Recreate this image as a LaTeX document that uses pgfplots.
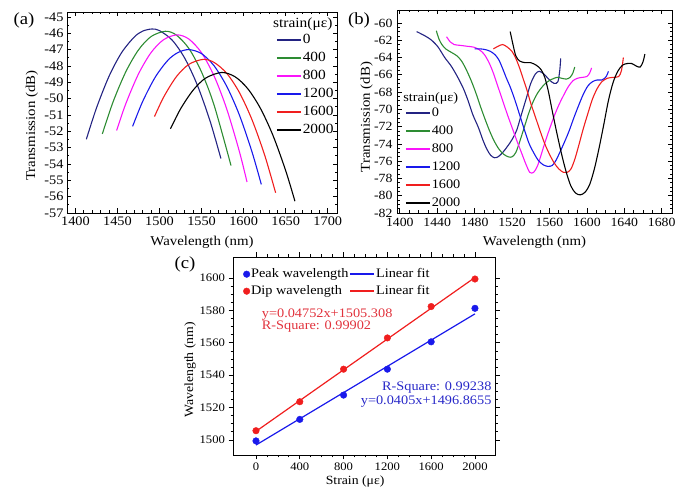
\documentclass[border=0pt]{standalone}
\usepackage{fontspec}
\setmainfont{Liberation Serif}[FakeStretch=1.1]
\usepackage{pgfplots}
\pgfplotsset{compat=1.18}
\definecolor{cnavy}{RGB}{35,35,130}
\definecolor{cgreen}{RGB}{45,140,50}
\definecolor{cmag}{RGB}{250,20,250}
\definecolor{cblue}{RGB}{25,25,235}
\definecolor{cred}{RGB}{240,30,30}
\definecolor{tred}{RGB}{225,50,60}
\definecolor{tblue}{RGB}{40,40,200}
\newcommand{\fs}[1]{\fontsize{#1}{#1}\selectfont}
\pgfplotsset{
  common/.style={
    scale only axis,
    /pgf/number format/assume math mode=true,
    /pgf/number format/1000 sep={},
    major tick length=4.5pt, minor tick length=2.5pt,
    every tick/.style={black, line width=0.7pt},
    axis line style={line width=0.7pt},
    legend cell align=left,
    legend style={draw=none, fill=none, inner sep=0pt, row sep=0pt,
      nodes={inner sep=1pt, text height=12pt, text depth=4pt}},
    legend image code/.code={\draw[##1, line width=1.6pt] (0pt,0pt) -- (24pt,0pt);},
  },
  dotlegend/.style={legend image code/.code={\fill[##1] (3.5pt,0pt) circle[radius=3.3pt];}},
}
\begin{document}
\begin{tikzpicture}
\useasboundingbox (0,0) rectangle (686pt,492pt);
% ---------------- (a)
\begin{axis}[common,
  at={(67pt,279pt)}, anchor=south west,
  width=270pt, height=201pt,
  xmin=1390, xmax=1711, ymin=-57, ymax=-44.7,
  xtick={1400,1450,...,1700}, ytick={-57,-56,...,-45},
  minor x tick num=4, minor y tick num=1,
  tick label style={font=\fs{13}},
  xlabel={Wavelength (nm)}, ylabel={Transmission (dB)},
  label style={font=\fs{13.5}},
  xlabel style={at={(axis description cs:0.5,-0.145)}, anchor=center},
  ylabel style={at={(axis description cs:-0.13,0.435)}, anchor=center},
  legend style={font=\fs{14}, at={(axis description cs:0.774,0.9075)}, anchor=north west},
  every axis plot/.append style={line width=1.1pt, smooth, no markers},
]
\addplot[cnavy] coordinates {(1413,-52.49)(1425,-50.58)(1440,-48.63)(1455,-47.18)(1470,-46.23)(1480,-45.87)(1491,-45.74)(1500,-45.84)(1515,-46.42)(1530,-47.53)(1545,-49.18)(1560,-51.36)(1573,-53.67)};
\addlegendentry{0}
\addplot[cgreen] coordinates {(1432,-52.16)(1445,-50.17)(1460,-48.35)(1475,-47.02)(1490,-46.20)(1507,-45.88)(1520,-46.11)(1535,-46.94)(1550,-48.38)(1565,-50.42)(1585,-54.10)};
\addlegendentry{400}
\addplot[cmag] coordinates {(1449,-51.95)(1460,-50.30)(1475,-48.49)(1490,-47.18)(1505,-46.39)(1521,-46.10)(1535,-46.36)(1550,-47.20)(1565,-48.63)(1580,-50.65)(1595,-53.25)(1604,-55.10)};
\addlegendentry{800}
\addplot[cblue] coordinates {(1468,-51.70)(1480,-50.17)(1495,-48.68)(1510,-47.65)(1522,-47.18)(1535,-47.00)(1550,-47.25)(1565,-48.00)(1580,-49.26)(1595,-51.01)(1610,-53.27)(1621,-55.25)};
\addlegendentry{1200}
\addplot[cred] coordinates {(1494,-51.10)(1505,-49.90)(1520,-48.66)(1535,-47.90)(1552,-47.60)(1565,-47.79)(1580,-48.46)(1595,-49.63)(1610,-51.30)(1625,-53.46)(1638,-55.76)};
\addlegendentry{1600}
\addplot[black] coordinates {(1513,-51.85)(1525,-50.63)(1540,-49.48)(1555,-48.74)(1574,-48.40)(1590,-48.67)(1605,-49.40)(1620,-50.60)(1635,-52.27)(1650,-54.41)(1661,-56.28)};
\addlegendentry{2000}
\node[anchor=west, font=\fs{14}, inner sep=0pt] at (axis description cs:0.763,0.94) {strain(με)};
\end{axis}
% ---------------- (b)
\begin{axis}[common,
  at={(397pt,279pt)}, anchor=south west,
  width=275pt, height=203pt,
  xmin=1397, xmax=1691, ymin=-82, ymax=-58.5,
  xtick={1400,1440,...,1680}, ytick={-82,-80,...,-60},
  minor x tick num=3, minor y tick num=3,
  tick label style={font=\fs{12.5}},
  yticklabel style={xshift=-1pt},
  xticklabel style={yshift=-2pt},
  xlabel={Wavelength (nm)}, ylabel={Transmission (dB)},
  label style={font=\fs{13.5}},
  xlabel style={at={(axis description cs:0.5,-0.145)}, anchor=center},
  ylabel style={at={(axis description cs:-0.11,0.472)}, anchor=center},
  legend style={font=\fs{13}, at={(axis description cs:0.029,0.539)}, anchor=north west},
  every axis plot/.append style={line width=1.1pt, smooth, no markers},
]
\addplot[cnavy] coordinates {(1418,-61.0)(1427,-61.5)(1434,-62.0)(1441,-62.8)(1448,-64.0)(1455,-65.0)(1462,-66.3)(1468,-67.6)(1473,-69.0)(1478,-70.6)(1484,-72.1)(1489,-73.6)(1493,-74.6)(1497,-75.3)(1501,-75.6)(1505,-75.5)(1510,-75.0)(1515,-74.3)(1520,-73.5)(1525,-72.4)(1530,-70.6)(1535,-68.8)(1540,-67.0)(1545,-65.9)(1549,-65.6)(1554,-65.9)(1560,-66.6)(1565,-67.0)(1569,-66.8)(1571,-65.5)(1572,-64.1)};
\addlegendentry{0}
\addplot[cgreen] coordinates {(1439,-60.9)(1442,-61.9)(1445,-62.5)(1449,-63.0)(1455,-63.4)(1461,-63.8)(1466,-64.4)(1471,-65.4)(1476,-66.6)(1481,-68.0)(1486,-69.6)(1491,-71.1)(1496,-72.5)(1501,-73.7)(1506,-74.6)(1511,-75.2)(1516,-75.5)(1520,-75.5)(1524,-75.0)(1528,-73.8)(1533,-72.1)(1538,-70.4)(1543,-69.0)(1548,-68.0)(1553,-67.3)(1558,-66.8)(1563,-66.5)(1568,-66.3)(1573,-66.4)(1578,-66.5)(1582,-66.3)(1585,-65.8)(1587,-65.1)};
\addlegendentry{400}
\addplot[cmag] coordinates {(1450,-61.6)(1454,-62.2)(1458,-62.5)(1465,-62.6)(1472,-62.7)(1479,-62.8)(1485,-63.1)(1490,-63.6)(1495,-64.5)(1500,-65.8)(1505,-67.4)(1510,-69.0)(1515,-70.6)(1520,-72.1)(1525,-73.6)(1530,-75.0)(1535,-76.4)(1539,-77.3)(1543,-77.3)(1547,-76.6)(1551,-75.3)(1555,-73.9)(1560,-72.3)(1565,-70.8)(1570,-69.5)(1575,-68.4)(1580,-67.4)(1585,-66.7)(1590,-66.4)(1595,-66.3)(1600,-66.2)(1603,-65.8)(1605,-65.2)};
\addlegendentry{800}
\addplot[cblue] coordinates {(1480,-63.0)(1486,-63.0)(1492,-63.1)(1497,-63.3)(1502,-63.7)(1506,-64.3)(1510,-65.3)(1514,-66.4)(1518,-67.4)(1523,-68.9)(1528,-70.6)(1533,-72.3)(1538,-73.9)(1543,-75.0)(1548,-75.9)(1553,-76.4)(1558,-76.6)(1563,-76.5)(1567,-75.9)(1571,-75.0)(1576,-73.8)(1581,-72.5)(1586,-71.0)(1591,-69.6)(1596,-68.3)(1601,-67.3)(1606,-66.8)(1611,-66.6)(1616,-66.6)(1620,-66.3)(1622,-65.9)(1623,-65.6)};
\addlegendentry{1200}
\addplot[cred] coordinates {(1500,-63.0)(1505,-62.7)(1510,-62.5)(1515,-62.8)(1520,-63.3)(1524,-64.1)(1528,-65.2)(1532,-66.5)(1536,-67.8)(1540,-69.3)(1545,-70.9)(1550,-72.5)(1555,-74.0)(1560,-75.2)(1565,-76.2)(1570,-76.9)(1575,-77.3)(1579,-77.3)(1583,-76.9)(1587,-75.8)(1591,-74.3)(1596,-72.3)(1601,-70.5)(1606,-68.8)(1611,-67.6)(1616,-66.8)(1622,-66.4)(1628,-66.3)(1634,-66.2)(1637,-65.5)(1639,-64.0)};
\addlegendentry{1600}
\addplot[black] coordinates {(1518,-61.0)(1521,-62.5)(1524,-63.8)(1528,-64.4)(1534,-64.6)(1540,-64.6)(1546,-64.9)(1551,-65.4)(1555,-66.3)(1559,-68.0)(1563,-70.2)(1568,-72.8)(1573,-75.2)(1578,-77.3)(1583,-78.9)(1588,-79.7)(1593,-79.9)(1598,-79.6)(1603,-78.7)(1608,-76.9)(1613,-74.5)(1618,-71.8)(1623,-69.0)(1628,-66.9)(1633,-65.6)(1638,-64.9)(1643,-64.7)(1648,-64.7)(1653,-65.0)(1657,-65.1)(1660,-64.5)(1662,-63.6)};
\addlegendentry{2000}
\node[anchor=west, font=\fs{13}, inner sep=0pt] at (axis description cs:0.022,0.564) {strain(με)};
\end{axis}
% ---------------- (c)
\begin{axis}[common,
  at={(233pt,37pt)}, anchor=south west,
  width=262pt, height=198pt,
  xmin=-210, xmax=2183, ymin=1490.7, ymax=1613,
  xtick={0,400,...,2000}, ytick={1500,1520,...,1600},
  minor x tick num=3, minor y tick num=3,
  tick align=outside,
  tick label style={font=\fs{11.5}},
  xlabel={Strain (με)}, ylabel={Wavelength (nm)},
  label style={font=\fs{12.5}},
  xlabel style={at={(axis description cs:0.466,-0.135)}, anchor=center},
  ylabel style={at={(axis description cs:-0.164,0.43)}, anchor=center},
  legend columns=2,
  legend style={font=\fs{13}, at={(axis description cs:0.038,0.957)}, anchor=north west,
    nodes={inner sep=1pt, text height=11pt, text depth=4pt}},
]
\addlegendimage{cblue, dotlegend}
\addlegendentry{Peak wavelength}
\addlegendimage{cblue}
\addlegendentry{Linear fit}
\addlegendimage{cred, dotlegend}
\addlegendentry{Dip wavelength}
\addlegendimage{cred}
\addlegendentry{Linear fit}
\addplot[forget plot, only marks, mark=*, mark size=3.3pt, color=cblue]
  coordinates {(0,1499.4)(400,1512.7)(800,1527.7)(1200,1543.7)(1600,1560.6)(2000,1581.3)};
\addplot[forget plot, cblue, line width=1.2pt, no markers] coordinates {(0,1496.87)(2000,1577.87)};
\addplot[forget plot, only marks, mark=*, mark size=3.3pt, color=cred]
  coordinates {(0,1505.7)(400,1523.6)(800,1543.7)(1200,1563.0)(1600,1582.4)(2000,1599.4)};
\addplot[forget plot, cred, line width=1.2pt, no markers] coordinates {(0,1505.31)(2000,1600.35)};
\node[anchor=west, text=tred, font=\fs{13}, inner sep=0pt] at (axis cs:52,1577.5) {y=0.04752x+1505.308};
\node[anchor=west, text=tred, font=\fs{13}, inner sep=0pt] at (axis cs:52,1570.3) {R-Square: 0.99902};
\node[anchor=east, text=tblue, font=\fs{13}, inner sep=0pt] at (axis cs:2152,1532.2) {R-Square: 0.99238};
\node[anchor=east, text=tblue, font=\fs{13}, inner sep=0pt] at (axis cs:2152,1523.6) {y=0.0405x+1496.8655};
\end{axis}
% panel labels
\node[font=\fs{17}] at (24pt,472pt) {(a)};
\node[font=\fs{17}] at (359pt,472pt) {(b)};
\node[font=\fs{17}] at (185pt,228pt) {(c)};
\end{tikzpicture}
\end{document}
